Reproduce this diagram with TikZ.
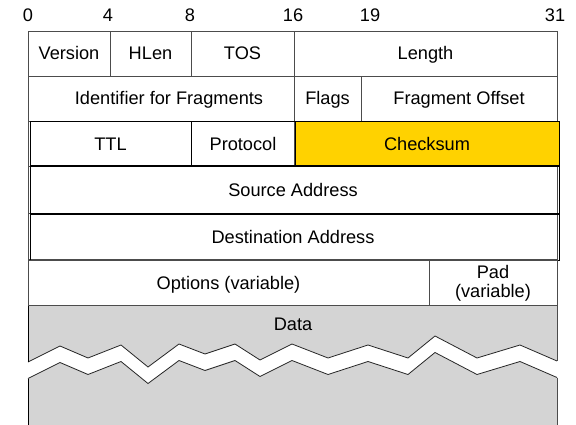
\documentclass[tikz,border=0pt]{standalone}
\usepackage{fontspec}
\setmainfont{Liberation Sans}
\definecolor{gold}{RGB}{255,210,0}
\definecolor{datagray}{RGB}{212,212,212}
\begin{document}
\begin{tikzpicture}[x=1pt,y=-1pt,
  font=\fontsize{18.2}{19}\selectfont,
  base/.style={draw=black!70, line width=0.9pt},
  over/.style={draw=black, line width=1pt},
  txt/.style={inner sep=0pt, anchor=base},
  bitlbl/.style={inner sep=0pt, anchor=base},
  zig/.style={draw=black!85, line width=0.8pt, line join=miter}]
\useasboundingbox (0,0) rectangle (576,425);

% ---- bit labels
\node[bitlbl] (b0)  at (28,22)  {0};
\node[bitlbl] (b4)  at (108,22) {4};
\node[bitlbl] (b8)  at (190,22) {8};
\node[bitlbl] (b16) at (293,22) {16};
\node[bitlbl] (b19) at (370,22) {19};
\node[bitlbl] (b31) at (555,22) {31};

% ---- data area
\fill[datagray] (28,305) rectangle (557,425);
\foreach \i/\x/\y in {1/28/362,2/60/346,3/88/358,4/121/345,5/148/367,6/179/344,
  7/205/354,8/235/344,9/260/360,10/292/344,11/328/358,12/368/345,13/408/358,
  14/435/336,15/477/358,16/520/345,17/557/361}{
  \coordinate (u\i) at (\x,\y);
  \coordinate (l\i) at (\x,\y+16.5);
}
\fill[white] (u1) -- (u2) -- (u3) -- (u4) -- (u5) -- (u6) -- (u7) -- (u8) -- (u9)
  -- (u10) -- (u11) -- (u12) -- (u13) -- (u14) -- (u15) -- (u16) -- (u17)
  -- (l17) -- (l16) -- (l15) -- (l14) -- (l13) -- (l12) -- (l11) -- (l10) -- (l9)
  -- (l8) -- (l7) -- (l6) -- (l5) -- (l4) -- (l3) -- (l2) -- (l1) -- cycle;
\draw[zig] (u1) -- (u2) -- (u3) -- (u4) -- (u5) -- (u6) -- (u7) -- (u8) -- (u9)
  -- (u10) -- (u11) -- (u12) -- (u13) -- (u14) -- (u15) -- (u16) -- (u17);
\draw[zig] (l1) -- (l2) -- (l3) -- (l4) -- (l5) -- (l6) -- (l7) -- (l8) -- (l9)
  -- (l10) -- (l11) -- (l12) -- (l13) -- (l14) -- (l15) -- (l16) -- (l17);
\coordinate (dtl) at (28,305);
\coordinate (dtr) at (557,305);
\coordinate (dbl) at (28,425);
\coordinate (dbr) at (557,425);
\draw[base,draw=black] (dtl) -- (u1) (l1) -- (dbl);
\draw[base] (dtr) -- (u17) (l17) -- (dbr);
\node[txt] (data) at (293,330) {Data};

% ---- row 1
\draw[base] (28,31) rectangle (110,76);  \node[txt] (version) at (69,60) {Version};
\draw[base] (110,31) rectangle (191,76); \node[txt] (hlen) at (150.5,60) {HLen};
\draw[base] (191,31) rectangle (294,76); \node[txt] (tos) at (242.5,60) {TOS};
\draw[base] (294,31) rectangle (557,76); \node[txt] (length) at (425.5,60) {Length};
% ---- row 2
\draw[base] (28,76) rectangle (294,121);  \node[txt] (ident) at (169,105) {Identifier for Fragments};
\draw[base] (294,76) rectangle (361,121); \node[txt] (flags) at (327.5,105) {Flags};
\draw[base] (361,76) rectangle (557,121); \node[txt] (offset) at (459,105) {Fragment Offset};
% ---- rows 3-5 base layer
\draw[base] (28,121) rectangle (191,166);
\draw[base] (191,121) rectangle (294,166);
\draw[base] (294,121) rectangle (557,166);
\draw[base] (28,166) rectangle (557,213);
\draw[base] (28,213) rectangle (557,259);
% ---- rows 3-5 overlay layer
\draw[over] (30,122) rectangle (191,166); \node[txt] (ttl) at (110.5,150.5) {TTL};
\draw[over] (191,122) rectangle (295,166); \node[txt] (protocol) at (243,150.5) {Protocol};
\filldraw[over,fill=gold] (295,122) rectangle (559,166); \node[txt] (checksum) at (427,150.5) {Checksum};
\draw[over] (30,167) rectangle (559,213); \node[txt] (source) at (293,196.5) {Source Address};
\draw[over] (30,214) rectangle (559,260); \node[txt] (dest) at (293,243) {Destination Address};
% ---- row 6
\draw[base] (28,260) rectangle (429,305); \node[txt] (options) at (228.5,289) {Options (variable)};
\draw[base] (429,260) rectangle (557,305);
\node[txt] (pad) at (493,278) {Pad};
\node[txt] (padvar) at (493,297) {(variable)};
\end{tikzpicture}
\end{document}
